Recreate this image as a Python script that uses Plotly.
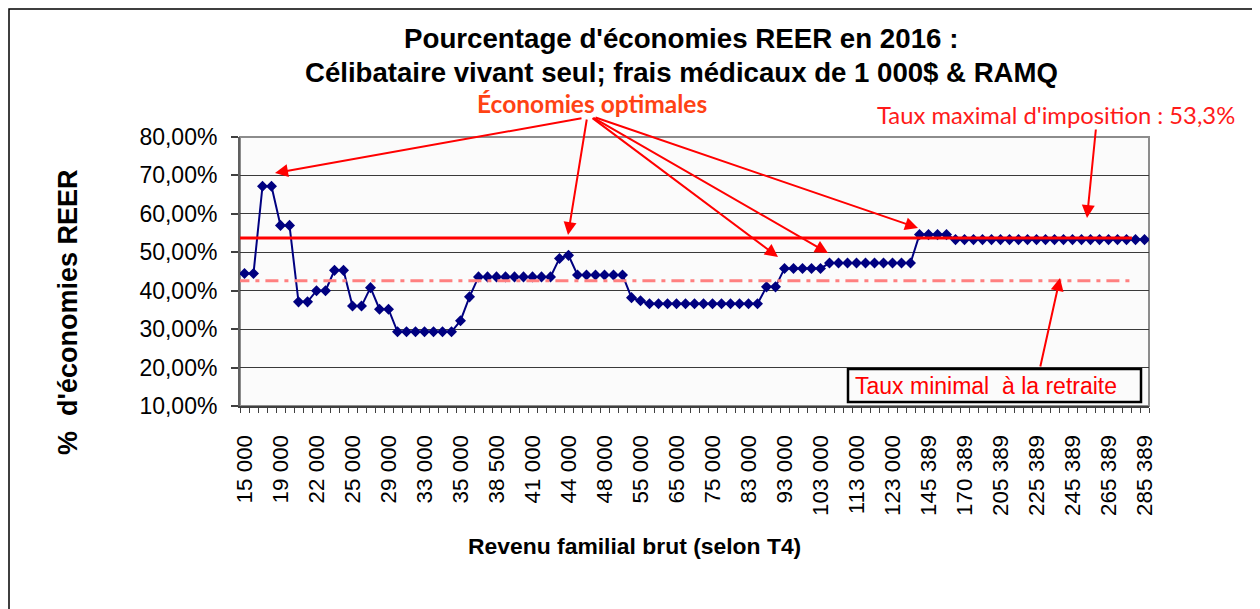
import plotly.graph_objects as go

# ---- data ----
revenus = [
    "15 000", "16 000", "17 000", "18 000", "19 000", "20 000", "20 500", "21 000",
    "22 000", "23 000", "23 500", "24 000", "25 000", "26 000", "27 000", "28 000",
    "29 000", "30 000", "31 000", "32 000", "33 000", "33 500", "34 000", "34 500",
    "35 000", "36 000", "37 000", "37 500", "38 500", "39 000", "39 500", "40 000",
    "41 000", "42 000", "42 500", "43 000", "44 000", "45 000", "46 000", "47 000",
    "48 000", "50 000", "52 000", "53 000", "55 000", "57 500", "60 000", "62 500",
    "65 000", "67 500", "70 000", "72 500", "75 000", "77 000", "79 000", "81 000",
    "83 000", "85 500", "88 000", "90 500", "93 000", "95 500", "98 000", "100 500",
    "103 000", "105 500", "108 000", "110 500", "113 000", "115 500", "118 000", "120 500",
    "123 000", "128 000", "133 000", "140 389", "145 389", "150 389", "155 389", "160 389",
    "170 389", "180 389", "190 389", "195 389", "205 389", "210 389", "215 389", "220 389",
    "225 389", "230 389", "235 389", "240 389", "245 389", "250 389", "255 389", "260 389",
    "265 389", "270 389", "275 389", "280 389", "285 389",
]

economies_pct = [
    44.5, 44.5, 67.2, 67.2, 57.0, 57.0, 37.1, 37.1,
    40.0, 40.0, 45.3, 45.3, 36.0, 36.0, 40.8, 35.2,
    35.2, 29.3, 29.3, 29.3, 29.3, 29.3, 29.3, 29.3,
    32.2, 38.4, 43.6, 43.6, 43.6, 43.6, 43.6, 43.6,
    43.6, 43.6, 43.6, 48.4, 49.2, 44.1, 44.1, 44.1,
    44.1, 44.1, 44.1, 38.2, 37.4, 36.6, 36.6, 36.6,
    36.6, 36.6, 36.6, 36.6, 36.6, 36.6, 36.6, 36.6,
    36.6, 36.6, 41.0, 41.0, 45.8, 45.8, 45.8, 45.8,
    45.8, 47.2, 47.2, 47.2, 47.2, 47.2, 47.2, 47.2,
    47.2, 47.2, 47.2, 54.6, 54.6, 54.6, 54.6, 53.3,
    53.3, 53.3, 53.3, 53.3, 53.3, 53.3, 53.3, 53.3,
    53.3, 53.3, 53.3, 53.3, 53.3, 53.3, 53.3, 53.3,
    53.3, 53.3, 53.3, 53.3, 53.3,
]

taux_maximal = 53.75      # ligne rouge pleine
taux_minimal = 42.6       # ligne pointillée
y_ticks = [10, 20, 30, 40, 50, 60, 70, 80]
y_ticktext = ["10,00%", "20,00%", "30,00%", "40,00%", "50,00%", "60,00%", "70,00%", "80,00%"]
label_step = 4

# ---- figure (page body has an 8px margin, so work in page coords minus 8) ----
OFF = 8
W, H = 1260 - OFF, 609 - OFF
L, R, T, B = 240, 1149, 137, 406   # plot area in page pixels

def px_x(p):
    return (p - L) / (R - L)

def px_y(p):
    return (B - p) / (B - T)

idx = list(range(len(revenus)))

fig = go.Figure()
fig.add_trace(go.Scatter(
    x=idx, y=economies_pct, mode="lines+markers",
    line=dict(color="#000080", width=2),
    marker=dict(symbol="diamond", size=8.5, color="#000080"),
    showlegend=False, hoverinfo="skip",
))

shapes = []
shapes.append(dict(type="rect", xref="paper", yref="paper", x0=0, x1=1, y0=0, y1=1,
                   line=dict(color="#8c8c8c", width=2), layer="below"))
shapes.append(dict(type="line", xref="x", yref="y", x0=-0.9, x1=98.6,
                   y0=taux_minimal, y1=taux_minimal,
                   line=dict(color="#FF8080", width=3, dash="13px,6px,4px,6px")))
shapes.append(dict(type="line", xref="x", yref="y", x0=-0.9, x1=98.6,
                   y0=taux_maximal, y1=taux_maximal,
                   line=dict(color="#FF0000", width=3)))
shapes.append(dict(type="rect", xref="paper", yref="paper",
                   x0=px_x(848), x1=px_x(1141), y0=px_y(402), y1=px_y(369),
                   line=dict(color="#000000", width=2.5), fillcolor="#FBFBFB"))
# outer chart border (left/top visible; right/bottom cropped)
shapes.append(dict(type="rect", xref="paper", yref="paper",
                   x0=px_x(9), x1=px_x(1320), y0=px_y(660), y1=px_y(9),
                   line=dict(color="#000000", width=1.5)))

ann = []
ann.append(dict(xref="paper", yref="paper", x=px_x(681), y=px_y(39), xanchor="center", yanchor="middle",
                text="<b>Pourcentage d'économies REER en 2016 :</b>", showarrow=False,
                font=dict(family="Liberation Sans, Arial", size=27.7, color="#000000")))
ann.append(dict(xref="paper", yref="paper", x=px_x(681), y=px_y(72), xanchor="center", yanchor="middle",
                text="<b>Célibataire vivant seul; frais médicaux de 1 000$ & RAMQ</b>", showarrow=False,
                font=dict(family="Liberation Sans, Arial", size=27.6, color="#000000")))
ann.append(dict(xref="paper", yref="paper", x=px_x(68), y=px_y(312), xanchor="center", yanchor="middle",
                text="<b>%  d'économies REER</b>", textangle=-90, showarrow=False,
                font=dict(family="Liberation Sans, Arial", size=27, color="#000000")))
ann.append(dict(xref="paper", yref="paper", x=px_x(634), y=px_y(546), xanchor="center", yanchor="middle",
                text="<b>Revenu familial brut (selon T4)</b>", showarrow=False,
                font=dict(family="Liberation Sans, Arial", size=22.9, color="#000000")))
ann.append(dict(xref="paper", yref="paper", x=px_x(592), y=px_y(104), xanchor="center", yanchor="middle",
                text="<b>Économies optimales</b>", showarrow=False,
                font=dict(family="Lato", size=24.5, color="#FF4214")))
ann.append(dict(xref="paper", yref="paper", x=px_x(1056), y=px_y(115), xanchor="center", yanchor="middle",
                text="Taux maximal d'imposition : 53,3%", showarrow=False,
                font=dict(family="Lato", size=23.8, color="#FF1A1A")))
ann.append(dict(xref="paper", yref="paper", x=px_x(853), y=px_y(386), xanchor="left", yanchor="middle",
                text="Taux minimal  à la retraite", showarrow=False,
                font=dict(family="Liberation Sans, Arial", size=23, color="#FF0000")))

arrows = [
    ((275, 173), (583, 118)),
    ((568, 235), (587, 118)),
    ((778, 257), (591, 117)),
    ((828, 253), (592, 117)),
    ((918, 228), (594, 117)),
    ((1087, 218), (1096, 128)),
    ((1060, 278), (1040, 368)),
]
for (hx, hy), (tx, ty) in arrows:
    ann.append(dict(xref="paper", yref="paper", x=px_x(hx), y=px_y(hy), text="",
                    showarrow=True, axref="pixel", ayref="pixel", ax=tx - hx, ay=ty - hy,
                    arrowhead=2, arrowsize=1.3, arrowwidth=2, arrowcolor="#FF0000",
                    standoff=0, startstandoff=0))

fig.update_layout(
    width=W, height=H,
    margin=dict(l=L - OFF, r=W - (R - OFF), t=T - OFF, b=H - (B - OFF), pad=0),
    paper_bgcolor="#FFFFFF", plot_bgcolor="#FBFBFB",
    font=dict(family="Liberation Sans, Arial", size=22, color="#000000"),
    shapes=shapes, annotations=ann, showlegend=False,
)
fig.update_xaxes(
    range=[-0.5, len(revenus) - 0.5], tickmode="array",
    tickvals=idx[::label_step], ticktext=revenus[::label_step],
    tickangle=-90, ticks="", showgrid=False, zeroline=False,
    showline=True, linecolor="#404040", linewidth=2,
    tickfont=dict(size=22.4, color="#000000"), ticklabelstandoff=18,
    minor=dict(tickmode="linear", tick0=-0.5, dtick=1, ticks="outside",
               ticklen=5, tickcolor="#404040", tickwidth=1, showgrid=False),
)
fig.update_yaxes(
    range=[10, 80], tickmode="array", tickvals=y_ticks, ticktext=y_ticktext,
    ticks="outside", ticklen=7, tickcolor="#404040", tickwidth=1.5,
    showgrid=True, gridcolor="#3a3a3a", gridwidth=1, zeroline=False,
    showline=True, linecolor="#606060", linewidth=2,
    tickfont=dict(size=23, color="#000000"), ticklabelstandoff=9,
)

fig.write_html("out.html")
